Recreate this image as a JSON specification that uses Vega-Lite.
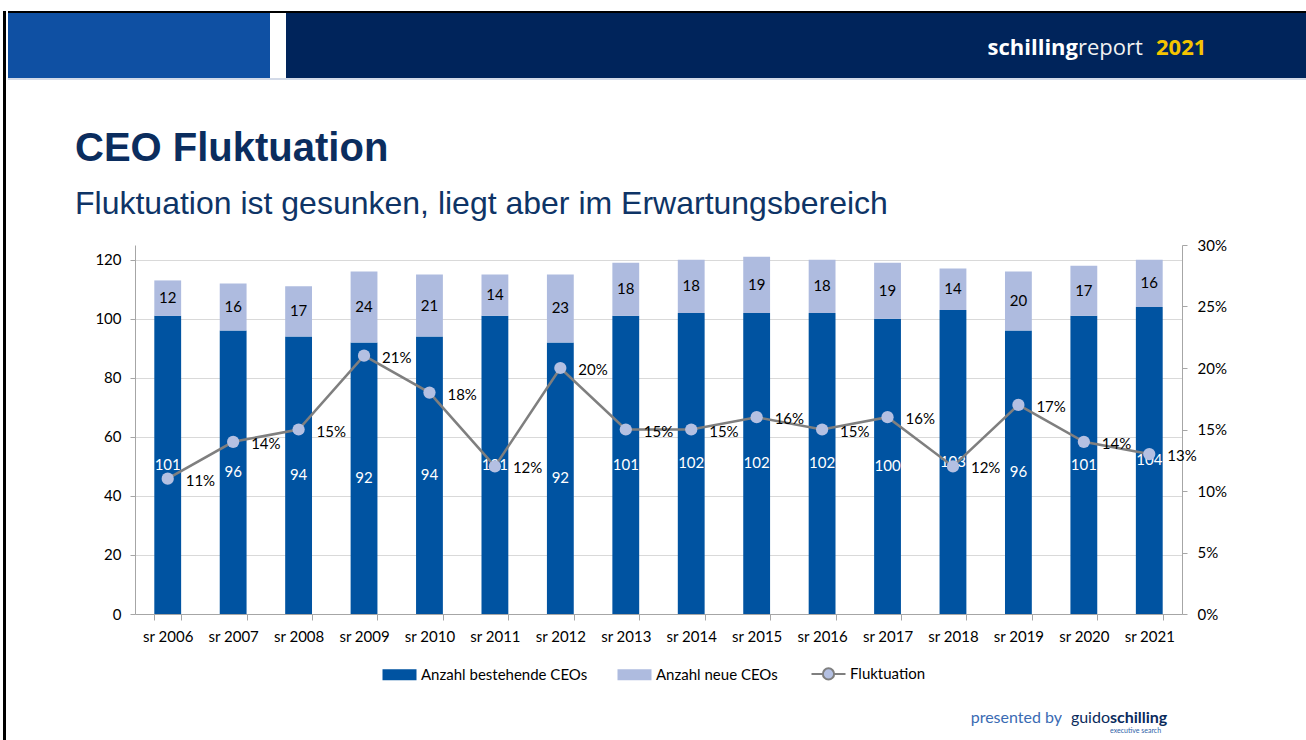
{
  "$schema": "https://vega.github.io/schema/vega-lite/v6.json",
  "background": "#ffffff",
  "padding": {"left": 3, "top": 11, "right": 0, "bottom": 0},
  "config": {
    "view": {"stroke": null},
    "font": "Lato",
    "axis": {"labelFont": "Lato", "labelFontSize": 15, "labelColor": "#000000", "domainColor": "#A6A6A6", "tickColor": "#A6A6A6", "gridColor": "#D9D9D9", "domainWidth": 1, "tickWidth": 1},
    "legend": {"layout": {"bottom": {"anchor": "middle"}}}
  },
  "hconcat": [
    {"width": 3, "height": 729, "view": {"fill": "#000000"}, "data": {"values": []}, "mark": "rect"},
    {"vconcat": [
      {"vconcat": [
        {"width": 1298, "height": 2, "view": {"fill": "#000000"}, "data": {"values": []}, "mark": "rect"},
        {"hconcat": [
          {"width": 262, "height": 65, "view": {"fill": "#0F50A3"}, "data": {"values": []}, "mark": "rect"},
          {"width": 16, "height": 65, "view": {"fill": "#FFFFFF"}, "data": {"values": []}, "mark": "rect"},
          {"width": 792, "height": 65, "view": {"fill": "#00245B"}, "data": {"values": []}, "mark": "rect",
           "title": {"text": "schilling", "orient": "top", "anchor": "end", "frame": "group", "offset": 0, "dy": 64, "baseline": "alphabetic", "font": "Open Sans", "fontSize": 22, "fontWeight": "bold", "color": "#FFFFFF"}},
          {"width": 76, "height": 65, "view": {"fill": "#00245B"}, "data": {"values": []}, "mark": "rect",
           "title": {"text": "report", "orient": "top", "anchor": "start", "frame": "group", "offset": 0, "dy": 64, "baseline": "alphabetic", "font": "Open Sans", "fontSize": 22, "fontWeight": "normal", "color": "#F2F2F2"}},
          {"width": 152, "height": 65, "view": {"fill": "#00245B"}, "data": {"values": []}, "mark": "rect",
           "title": {"text": "2021", "orient": "top", "anchor": "start", "frame": "group", "offset": 0, "dy": 64, "dx": 2, "baseline": "alphabetic", "font": "Open Sans", "fontSize": 22, "fontWeight": "bold", "color": "#F5C400"}}
        ], "spacing": 0},
        {"width": 1298, "height": 2, "view": {"fill": "#D3DAE8"}, "data": {"values": []}, "mark": "rect"}
      ], "spacing": 0},
      {"vconcat": [
        {"hconcat": [
          {"width": 67, "height": 10, "view": {"fill": "#FFFFFF"}, "data": {"values": []}, "mark": "rect"},
          {
            "width": 1047,
            "height": 369,
            "title": {"text": "CEO Fluktuation", "subtitle": "Fluktuation ist gesunken, liegt aber im Erwartungsbereich", "anchor": "start", "frame": "group", "dx": -60, "offset": 18, "font": "Liberation Sans", "fontSize": 40, "fontWeight": "bold", "color": "#0B2D5E", "subtitleFont": "Liberation Sans", "subtitleFontSize": 32, "subtitleFontWeight": "normal", "subtitleColor": "#0E3466", "subtitlePadding": 20},
            "data": {"values": [
              {"Jahr": "sr 2006", "Anzahl bestehende CEOs": 101, "Anzahl neue CEOs": 12, "Fluktuation": 0.11},
              {"Jahr": "sr 2007", "Anzahl bestehende CEOs": 96, "Anzahl neue CEOs": 16, "Fluktuation": 0.14},
              {"Jahr": "sr 2008", "Anzahl bestehende CEOs": 94, "Anzahl neue CEOs": 17, "Fluktuation": 0.15},
              {"Jahr": "sr 2009", "Anzahl bestehende CEOs": 92, "Anzahl neue CEOs": 24, "Fluktuation": 0.21},
              {"Jahr": "sr 2010", "Anzahl bestehende CEOs": 94, "Anzahl neue CEOs": 21, "Fluktuation": 0.18},
              {"Jahr": "sr 2011", "Anzahl bestehende CEOs": 101, "Anzahl neue CEOs": 14, "Fluktuation": 0.12},
              {"Jahr": "sr 2012", "Anzahl bestehende CEOs": 92, "Anzahl neue CEOs": 23, "Fluktuation": 0.20},
              {"Jahr": "sr 2013", "Anzahl bestehende CEOs": 101, "Anzahl neue CEOs": 18, "Fluktuation": 0.15},
              {"Jahr": "sr 2014", "Anzahl bestehende CEOs": 102, "Anzahl neue CEOs": 18, "Fluktuation": 0.15},
              {"Jahr": "sr 2015", "Anzahl bestehende CEOs": 102, "Anzahl neue CEOs": 19, "Fluktuation": 0.16},
              {"Jahr": "sr 2016", "Anzahl bestehende CEOs": 102, "Anzahl neue CEOs": 18, "Fluktuation": 0.15},
              {"Jahr": "sr 2017", "Anzahl bestehende CEOs": 100, "Anzahl neue CEOs": 19, "Fluktuation": 0.16},
              {"Jahr": "sr 2018", "Anzahl bestehende CEOs": 103, "Anzahl neue CEOs": 14, "Fluktuation": 0.12},
              {"Jahr": "sr 2019", "Anzahl bestehende CEOs": 96, "Anzahl neue CEOs": 20, "Fluktuation": 0.17},
              {"Jahr": "sr 2020", "Anzahl bestehende CEOs": 101, "Anzahl neue CEOs": 17, "Fluktuation": 0.14},
              {"Jahr": "sr 2021", "Anzahl bestehende CEOs": 104, "Anzahl neue CEOs": 16, "Fluktuation": 0.13}
            ]},
            "encoding": {
              "x": {"field": "Jahr", "type": "nominal", "sort": null,
                    "scale": {"paddingInner": 0.59, "paddingOuter": 0.295},
                    "axis": {"title": null, "labelAngle": 0, "tickBand": "extent", "tickSize": 6, "labelPadding": 9, "grid": false}}
            },
            "layer": [
              {
                "transform": [{"fold": ["Anzahl bestehende CEOs", "Anzahl neue CEOs"], "as": ["Serie", "Anzahl"]}],
                "layer": [
                  {
                    "mark": {"type": "bar"},
                    "encoding": {
                      "y": {"field": "Anzahl", "type": "quantitative", "stack": "zero",
                            "scale": {"domain": [0, 125], "nice": false},
                            "axis": {"title": null, "values": [0, 20, 40, 60, 80, 100, 120], "grid": true, "tickSize": 5, "labelPadding": 9}},
                      "color": {"field": "Serie", "type": "nominal",
                                "scale": {"domain": ["Anzahl bestehende CEOs", "Anzahl neue CEOs", "Fluktuation"], "range": ["#0053A1", "#AEBBDF", "#B4C0E2"]},
                                "legend": {"orient": "bottom", "direction": "horizontal", "title": null, "labelFont": "Lato", "labelFontSize": 15, "labelColor": "#000000", "labelLimit": 0,
                                           "symbolType": "M-1,-0.32H1V0.32H-1Z", "symbolSize": 1156, "symbolStrokeWidth": 0, "columnPadding": 29, "labelOffset": 14, "offset": 22,
                                           "encode": {"symbols": {"update": {
                                             "shape": {"signal": "datum.value === 'Fluktuation' ? 'M-1,0H-0.33M0.33,0H1M-0.33,0A0.33,0.33 0 1,1 0.33,0A0.33,0.33 0 1,1 -0.33,0Z' : 'M-1,-0.32H1V0.32H-1Z'"},
                                             "fill": {"signal": "datum.value === 'Anzahl bestehende CEOs' ? '#0053A1' : (datum.value === 'Anzahl neue CEOs' ? '#AEBBDF' : '#B4C0E2')"},
                                             "stroke": {"signal": "datum.value === 'Fluktuation' ? '#7F7F7F' : 'transparent'"},
                                             "strokeWidth": {"signal": "datum.value === 'Fluktuation' ? 2 : 0"},
                                             "opacity": {"value": 1}
                                           }}}}},
                      "order": {"field": "Serie", "sort": "ascending"}
                    }
                  },
                  {
                    "mark": {"type": "text", "font": "Lato", "fontSize": 15, "baseline": "middle"},
                    "encoding": {
                      "y": {"field": "Anzahl", "type": "quantitative", "stack": "zero", "bandPosition": 0.5},
                      "detail": {"field": "Serie"},
                      "order": {"field": "Serie", "sort": "ascending"},
                      "text": {"field": "Anzahl", "type": "quantitative"},
                      "color": {"condition": {"test": "datum.Serie === 'Anzahl bestehende CEOs'", "value": "#FFFFFF"}, "value": "#000000"}
                    }
                  }
                ]
              },
              {
                "layer": [
                  {
                    "mark": {"type": "line", "color": "#7F7F7F", "strokeWidth": 2.5},
                    "encoding": {
                      "y": {"field": "Fluktuation", "type": "quantitative",
                            "scale": {"domain": [0, 0.3], "nice": false},
                            "axis": {"orient": "right", "title": null, "values": [0, 0.05, 0.1, 0.15, 0.2, 0.25, 0.3], "format": ".0%", "grid": false, "tickSize": 5, "labelPadding": 10}}
                    }
                  },
                  {
                    "mark": {"type": "point", "filled": true, "color": "#B4C0E2", "size": 150, "opacity": 1},
                    "encoding": {"y": {"field": "Fluktuation", "type": "quantitative"}}
                  },
                  {
                    "mark": {"type": "text", "align": "left", "baseline": "middle", "dx": 18, "dy": 2, "font": "Lato", "fontSize": 15, "color": "#000000"},
                    "encoding": {
                      "y": {"field": "Fluktuation", "type": "quantitative"},
                      "text": {"field": "Fluktuation", "type": "quantitative", "format": ".0%"}
                    }
                  }
                ]
              }
            ],
            "resolve": {"scale": {"y": "independent"}}
          }
        ], "spacing": 0, "resolve": {"scale": {"color": "independent"}, "legend": {"color": "independent"}}},
        {"hconcat": [
          {"width": 1054, "height": 24, "view": {"fill": "#FFFFFF"}, "data": {"values": []}, "mark": "rect",
           "title": {"text": "presented by", "subtitle": " ", "orient": "top", "anchor": "end", "frame": "group", "offset": 0, "dy": 51, "baseline": "alphabetic", "font": "Lato", "fontSize": 16, "fontWeight": "normal", "color": "#3A6BB3", "subtitleFontSize": 7, "subtitlePadding": -6}},
          {"width": 48, "height": 24, "view": {"fill": "#FFFFFF"}, "data": {"values": []}, "mark": "rect",
           "title": {"text": "guido", "subtitle": " ", "orient": "top", "anchor": "end", "frame": "group", "offset": 0, "dy": 51, "baseline": "alphabetic", "font": "Lato", "fontSize": 16, "fontWeight": "normal", "color": "#0B2B5C", "subtitleFontSize": 7, "subtitlePadding": -6}},
          {"width": 110, "height": 24, "view": {"fill": "#FFFFFF"}, "data": {"values": []}, "mark": "rect",
           "title": {"text": "schilling", "subtitle": "executive search", "orient": "top", "anchor": "start", "frame": "group", "offset": 0, "dy": 51, "baseline": "alphabetic", "font": "Lato", "fontSize": 16, "fontWeight": "bold", "color": "#0B2B5C", "subtitleFont": "Lato", "subtitleFontSize": 7, "subtitleColor": "#2E5FA8", "subtitlePadding": -6}}
        ], "spacing": 0}
      ], "spacing": 12}
    ], "spacing": 49}
  ],
  "spacing": 2
}
